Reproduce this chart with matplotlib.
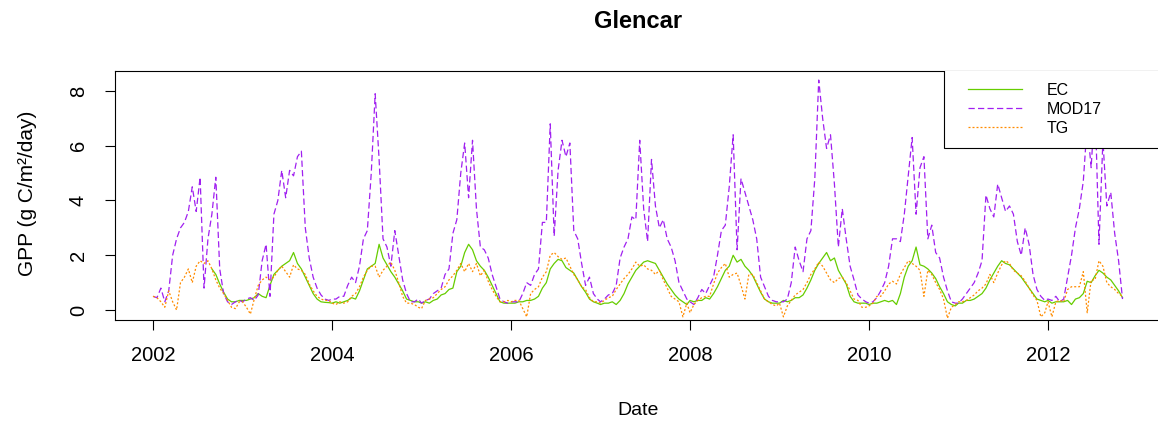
import numpy as np
import matplotlib.pyplot as plt
from matplotlib.patches import Rectangle

plt.rcParams['font.family'] = ['Liberation Sans', 'DejaVu Sans']

nan = np.nan

# 16-day composites, one row per year (2012 stops in early November)
years = list(range(2002, 2013))
step_days = 16

ec = [
    nan, nan, nan, nan, nan, nan, nan, nan, nan, nan, nan, nan, nan, nan, nan, 1.5, 1.3, 0.95, 0.65, 0.4, 0.3, 0.3, 0.35,
    0.35, 0.35, 0.4, 0.45, 0.6, 0.5, 0.45, 0.9, 1.3, 1.45, 1.6, 1.7, 1.8, 2.1, 1.7, 1.5, 1.2, 0.9, 0.6, 0.4, 0.3, 0.28, 0.27,
    0.25, 0.3, 0.25, 0.3, 0.35, 0.45, 0.4, 0.7, 1.1, 1.5, 1.6, 1.7, 2.4, 1.9, 1.65, 1.4, 1.2, 0.95, 0.7, 0.4, 0.35, 0.3, 0.3,
    0.25, 0.3, 0.25, 0.35, 0.4, 0.55, 0.6, 0.75, 0.8, 1.4, 1.6, 2.1, 2.4, 2.2, 1.8, 1.6, 1.45, 1.2, 0.9, 0.6, 0.3, 0.25, 0.25,
    0.25, 0.25, 0.3, 0.3, 0.35, 0.35, 0.4, 0.5, 0.8, 1.0, 1.5, 1.7, 1.85, 1.8, 1.55, 1.45, 1.35, 1.1, 0.85, 0.65, 0.4, 0.3, 0.25,
    0.2, 0.25, 0.25, 0.3, 0.2, 0.35, 0.6, 0.95, 1.2, 1.45, 1.6, 1.75, 1.8, 1.75, 1.7, 1.45, 1.2, 0.95, 0.75, 0.55, 0.4, 0.3, 0.2,
    0.35, 0.3, 0.35, 0.35, 0.45, 0.4, 0.6, 0.85, 1.15, 1.45, 1.6, 2.0, 1.75, 1.85, 1.6, 1.45, 1.25, 0.95, 0.65, 0.4, 0.3, 0.25, 0.25,
    0.25, 0.35, 0.3, 0.35, 0.45, 0.45, 0.55, 0.8, 1.1, 1.45, 1.7, 1.9, 2.1, 1.8, 1.9, 1.45, 1.2, 0.95, 0.5, 0.3, 0.25, 0.25, 0.25,
    0.2, 0.25, 0.25, 0.3, 0.35, 0.3, 0.35, 0.2, 0.6, 1.2, 1.6, 1.8, 2.3, 1.65, 1.6, 1.5, 1.35, 1.15, 0.85, 0.6, 0.3, 0.2, 0.15,
    0.25, 0.25, 0.35, 0.35, 0.4, 0.5, 0.6, 0.8, 1.1, 1.35, 1.6, 1.8, 1.7, 1.65, 1.5, 1.35, 1.2, 1.0, 0.8, 0.6, 0.4, 0.35, 0.3,
    0.35, 0.25, 0.3, 0.3, 0.3, 0.35, 0.2, 0.4, 0.45, 0.6, 1.05, 1.0, 1.25, 1.45, 1.35, 1.2, 1.1, 0.9, 0.7, 0.45,
]

mod17 = [
    0.5, 0.45, 0.8, 0.3, 0.7, 2.0, 2.6, 3.0, 3.2, 3.6, 4.5, 3.6, 4.85, 0.8, 2.6, 3.5, 4.85, 1.5, 0.6, 0.3, 0.2, 0.3, 0.35,
    0.3, 0.4, 0.45, 0.35, 0.55, 1.8, 2.4, 0.5, 3.5, 4.0, 5.1, 4.1, 5.1, 4.9, 5.6, 5.8, 3.0, 1.9, 1.2, 0.8, 0.55, 0.4, 0.35,
    0.4, 0.4, 0.5, 0.5, 0.9, 1.2, 1.0, 1.6, 2.6, 2.9, 5.0, 7.9, 5.5, 2.6, 2.3, 1.6, 2.9, 2.0, 1.1, 0.6, 0.3, 0.3, 0.4,
    0.25, 0.35, 0.4, 0.6, 0.7, 0.8, 1.3, 1.5, 2.8, 3.3, 5.0, 6.1, 4.1, 6.2, 3.7, 2.3, 2.2, 1.9, 1.3, 0.85, 0.4, 0.3, 0.25,
    0.3, 0.3, 0.3, 0.6, 1.0, 0.9, 1.3, 1.5, 3.2, 3.2, 6.8, 2.7, 5.1, 6.2, 5.6, 6.1, 2.9, 2.6, 1.7, 0.9, 1.2, 0.6, 0.4,
    0.3, 0.4, 0.55, 0.6, 0.9, 1.9, 2.3, 2.6, 3.4, 3.3, 6.2, 3.7, 2.5, 5.5, 3.8, 3.0, 3.3, 2.6, 2.3, 1.8, 1.0, 0.7, 0.4,
    0.3, 0.2, 0.45, 0.75, 0.6, 0.9, 1.2, 2.0, 2.9, 3.1, 4.5, 6.4, 2.2, 4.8, 4.3, 3.8, 3.3, 2.6, 1.2, 0.85, 0.5, 0.35, 0.3,
    0.3, 0.3, 0.4, 1.0, 2.3, 1.8, 1.4, 2.6, 2.9, 4.8, 8.4, 7.0, 5.9, 6.4, 4.6, 2.3, 3.7, 2.6, 1.6, 1.1, 0.55, 0.4, 0.3,
    0.25, 0.3, 0.45, 0.7, 1.0, 1.6, 2.6, 2.6, 2.5, 3.5, 4.9, 6.3, 3.5, 5.2, 5.6, 2.6, 3.1, 2.1, 1.9, 1.2, 0.7, 0.3, 0.25,
    0.25, 0.4, 0.6, 0.8, 1.0, 1.35, 1.8, 4.2, 3.7, 3.4, 4.6, 4.1, 3.6, 3.8, 3.5, 2.5, 2.0, 3.0, 2.4, 1.3, 0.75, 0.5, 0.35,
    0.4, 0.35, 0.5, 0.3, 0.4, 1.2, 2.0, 3.0, 3.7, 4.7, 6.8, 5.2, 7.6, 2.4, 6.2, 3.8, 4.3, 2.8, 1.8, 0.4,
]

tg = [
    0.5, 0.45, 0.3, 0.1, 0.7, 0.3, 0.0, 1.0, 1.2, 1.5, 1.0, 1.6, 1.8, 1.7, 1.8, 1.5, 1.1, 0.8, 0.6, 0.35, 0.1, 0.05, 0.3,
    0.3, 0.1, -0.15, 0.4, 0.9, 1.1, 1.2, 1.1, 1.2, 1.45, 1.6, 1.4, 1.2, 1.65, 1.5, 1.45, 1.3, 0.95, 0.7, 0.5, 0.4, 0.35, 0.35,
    0.25, 0.2, 0.3, 0.25, 0.3, 0.5, 0.6, 0.85, 1.2, 1.45, 1.6, 1.6, 1.2, 1.45, 1.6, 1.75, 1.45, 1.0, 0.5, 0.25, 0.25, 0.2, 0.1,
    0.05, 0.35, 0.4, 0.45, 0.6, 0.75, 0.85, 1.1, 1.25, 1.45, 1.7, 1.4, 1.7, 1.4, 1.7, 1.25, 1.45, 1.05, 0.75, 0.5, 0.3, 0.3, 0.35,
    0.3, 0.35, 0.35, 0.05, -0.25, 0.6, 0.75, 0.85, 1.2, 1.4, 2.0, 2.1, 1.95, 1.85, 1.9, 1.6, 1.3, 1.1, 0.85, 0.75, 0.45, 0.3, 0.3,
    0.25, 0.35, 0.45, 0.5, 0.75, 0.95, 1.15, 1.3, 1.5, 1.75, 1.6, 1.65, 1.5, 1.45, 1.3, 1.45, 1.1, 0.8, 0.5, 0.4, 0.3, -0.25, 0.25,
    -0.1, 0.2, 0.35, 0.45, 0.5, 0.5, 0.95, 1.35, 1.55, 1.7, 1.2, 1.3, 1.35, 0.9, 0.4, 1.3, 1.3, 1.0, 0.7, 0.4, 0.3, 0.2, 0.15,
    0.25, -0.25, 0.15, 0.35, 0.55, 0.65, 0.75, 1.0, 1.3, 1.5, 1.75, 1.6, 1.35, 1.1, 1.0, 1.15, 1.2, 1.0, 0.7, 0.4, 0.35, 0.1, 0.1,
    0.15, 0.25, 0.5, 0.5, 0.7, 0.95, 1.05, 0.95, 1.3, 1.55, 1.8, 1.7, 1.6, 1.45, 0.5, 1.45, 1.3, 1.0, 0.75, 0.4, -0.3, 0.1, 0.2,
    0.3, 0.3, 0.35, 0.45, 0.55, 0.7, 0.8, 0.95, 1.3, 1.0, 1.35, 1.65, 1.8, 1.7, 1.45, 1.35, 1.25, 1.05, 0.8, 0.55, 0.35, -0.25, -0.1,
    0.3, -0.25, 0.3, 0.35, 0.3, 0.75, 0.85, 0.85, 0.85, 1.4, -0.1, 1.1, 1.1, 1.8, 1.6, 1.0, 0.85, 0.75, 0.6, 0.5,
]

# decimal-year time axis for the composites
t = np.concatenate([y + np.arange(23) * step_days / 365.0 for y in years])[:len(ec)]

W, H = 1158, 423
fig = plt.figure(figsize=(W / 100, H / 100), dpi=100)
ax = fig.add_axes([115 / W, 1 - 320 / H, (1162 - 115) / W, (320 - 71) / H])

ax.plot(t, ec, color='#66CD00', lw=0.9, label='EC')
ax.plot(t, mod17, color='#A020F0', lw=0.9, dashes=(5, 2.6), label='MOD17')
ax.plot(t, tg, color='#FF8C00', lw=0.9, dashes=(1.6, 1.6), label='TG')

ax.set_xlim(2001.575, 2013.274)
ax.set_ylim(-0.365, 8.73)
ax.set_xticks(range(2002, 2013, 2))
ax.set_yticks([0, 2, 4, 6, 8])
ax.set_yticklabels(['0', '2', '4', '6', '8'], rotation=90, va='center')
ax.tick_params(axis='both', length=7.5, width=0.8, labelsize=14.5)
ax.tick_params(axis='x', pad=11)
ax.tick_params(axis='y', pad=12)
for s in ax.spines.values():
    s.set_linewidth(0.8)

# legend box in the top right corner, drawn over the lines
ax.add_patch(Rectangle(((944 - 115) / 1047, (320 - 148) / 249), 0.4, 0.5,
                       transform=ax.transAxes, facecolor='white', edgecolor='black',
                       lw=0.8, zorder=4))
leg = ax.legend(loc='upper left', bbox_to_anchor=((968 - 115) / 1047, (320 - 83) / 249),
                frameon=False, fontsize=11.5, handlelength=3.4, handletextpad=1.5,
                labelspacing=0.25, borderpad=0, borderaxespad=0)
leg.set_zorder(5)

fig.text(638 / W, 1 - 22 / H, 'Glencar', ha='center', va='center', fontsize=17, fontweight='bold')
fig.text(638 / W, 1 - 410 / H, 'Date', ha='center', va='center', fontsize=14)
fig.text(28 / W, 1 - 193 / H, 'GPP (g C/m²/day)', ha='center', va='center', fontsize=15, rotation=90)

fig.savefig('out.png', dpi=100)
